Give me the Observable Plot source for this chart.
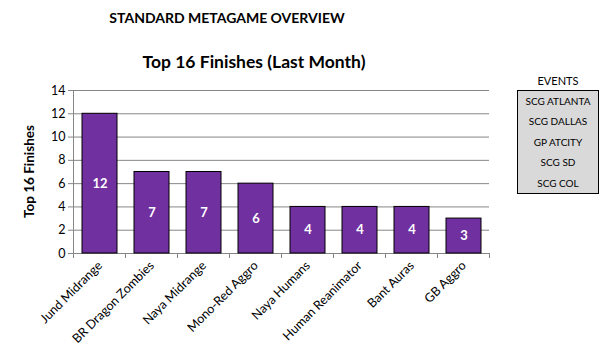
<!DOCTYPE html>
<html>
<head>
<meta charset="utf-8">
<script src="https://cdn.jsdelivr.net/npm/d3@7"></script>
<script src="https://cdn.jsdelivr.net/npm/@observablehq/plot@0.6"></script>
<style>
  html, body { margin: 0; padding: 0; background: #fff; }
  #wrap { position: relative; width: 609px; height: 358px; font-family: Lato, "Open Sans", sans-serif; }
  #wrap svg { position: absolute; left: 0; top: 0; }
  .t1 { position: absolute; left: 0; width: 454px; top: 9px; text-align: center; font-weight: bold; font-size: 14px; color: #000; }
  .t2 { position: absolute; left: 0; width: 508px; top: 51px; text-align: center; font-weight: bold; font-size: 17.5px; color: #000; }
  .ev-title { position: absolute; left: 517px; width: 82px; top: 74px; text-align: center; font-size: 11px; color: #000; }
  .ev-box { position: absolute; left: 517px; top: 90px; width: 80px; height: 102px; border: 1px solid #000; background: #d9d9d9; }
  .ev-box div { height: 20.4px; line-height: 20.4px; text-align: center; font-size: 10px; color: #000; }
</style>
</head>
<body>
<div id="wrap"></div>
<script>
const decks = ["Jund Midrange", "BR Dragon Zombies", "Naya Midrange", "Mono-Red Aggro", "Naya Humans", "Human Reanimator", "Bant Auras", "GB Aggro"];
const finishes = [12, 7, 7, 6, 4, 4, 4, 3];
const events = ["SCG ATLANTA", "SCG DALLAS", "GP ATCITY", "SCG SD", "SCG COL"];
const yTicks = [0, 2, 4, 6, 8, 10, 12, 14];
const mainTitle = "STANDARD METAGAME OVERVIEW";
const chartTitle = "Top 16 Finishes (Last Month)";
const yLabel = "Top 16 Finishes";

const data = decks.map((d, i) => ({deck: d, value: finishes[i]}));

const plot = Plot.plot({
  width: 609,
  height: 358,
  marginLeft: 73,
  marginRight: 120,
  marginTop: 90,
  marginBottom: 105,
  style: {fontFamily: "Lato, 'Open Sans', sans-serif", fontSize: "12px", color: "#000", background: "transparent"},
  x: {domain: decks, paddingInner: 0.33, paddingOuter: 0.165, label: null},
  y: {domain: [0, 14], ticks: yTicks, label: null},
  marks: [
    Plot.gridY(yTicks, {stroke: "#868686", strokeOpacity: 1}),
    Plot.frame({anchor: "left", stroke: "#868686"}),
    Plot.frame({anchor: "bottom", stroke: "#868686"}),
    Plot.barY(data, {x: "deck", y: "value", fill: "#7030a0", stroke: "#000", strokeWidth: 1}),
    Plot.text(data, {x: "deck", y: d => d.value / 2, text: d => String(d.value), fill: "#fff", fontWeight: "bold", fontSize: 13}),
    Plot.axisY(yTicks, {tickSize: 5, tickPadding: 3, stroke: "#868686", fill: "#000", fontSize: 12.5, label: null}),
    Plot.axisX({tickSize: 0, tickRotate: -45, tickPadding: 10, fontSize: 12.5, fill: "#000", label: null})
  ]
});

// Excel-style tick marks at category boundaries, derived from the band scale
const xs = plot.scale("x");
const gap = (xs.step - xs.bandwidth) / 2;
const bounds = decks.map(d => xs.apply(d) - gap);
bounds.push(xs.apply(decks[decks.length - 1]) + xs.bandwidth + gap);
const y0 = plot.scale("y").apply(0);
const g = d3.select(plot).append("g").attr("stroke", "#868686");
bounds.forEach(b => g.append("line").attr("x1", b).attr("x2", b).attr("y1", y0).attr("y2", y0 + 5));

// Rotated y-axis title
d3.select(plot).append("text")
  .attr("transform", `translate(34,${(90 + 253) / 2}) rotate(-90)`)
  .attr("text-anchor", "middle")
  .attr("font-weight", "bold")
  .attr("font-size", 13.5)
  .attr("fill", "#000")
  .text(yLabel);

const wrap = document.getElementById("wrap");
wrap.appendChild(plot);

const t1 = document.createElement("div"); t1.className = "t1"; t1.textContent = mainTitle; wrap.appendChild(t1);
const t2 = document.createElement("div"); t2.className = "t2"; t2.textContent = chartTitle; wrap.appendChild(t2);
const et = document.createElement("div"); et.className = "ev-title"; et.textContent = "EVENTS"; wrap.appendChild(et);
const box = document.createElement("div"); box.className = "ev-box";
events.forEach(e => { const r = document.createElement("div"); r.textContent = e; box.appendChild(r); });
wrap.appendChild(box);
</script>
</body>
</html>
